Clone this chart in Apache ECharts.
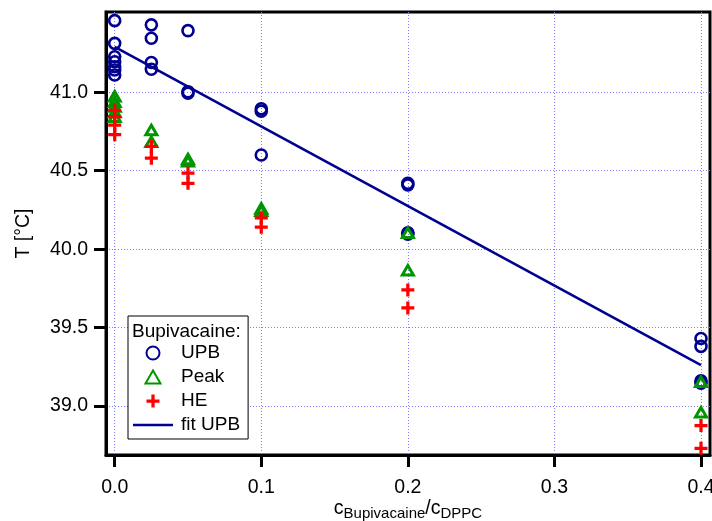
<!DOCTYPE html>
<html><head><meta charset="utf-8">
<script src="https://cdn.jsdelivr.net/npm/echarts@6/dist/echarts.min.js"></script>
<style>html,body{margin:0;padding:0;background:#fff}#c{width:712px;height:521px}</style>
</head><body><div id="c"></div>
<script>
// ---- data ----
const upbX = [0,0,0,0,0,0,0, 0.025,0.025,0.025,0.025, 0.05,0.05,0.05, 0.1,0.1,0.1, 0.2,0.2,0.2,0.2, 0.4,0.4,0.4,0.4];
const upbY = [41.457,41.312,41.227,41.195,41.163,41.142,41.11, 41.43,41.345,41.19,41.147, 41.393,41.004,40.994, 40.895,40.88,40.60, 40.42,40.41,40.105,40.095, 39.43,39.38,39.16,39.145];
const peakX = [0,0,0,0,0, 0.025,0.025, 0.05,0.05, 0.1,0.1, 0.2,0.2, 0.4,0.4];
const peakY = [40.975,40.94,40.91,40.875,40.845, 40.76,40.685, 40.575,40.56, 40.26,40.245, 40.105,39.865, 39.155,38.96];
const heX = [0,0,0,0, 0.025,0.025, 0.05,0.05, 0.1,0.1, 0.2,0.2, 0.4,0.4];
const heY = [40.885,40.845,40.79,40.73, 40.655,40.58, 40.485,40.42, 40.2,40.14, 39.74,39.625, 38.875,38.73];
const fitX = [0, 0.4];
const fitY = [41.29, 39.26];
const xTicks = [0, 0.1, 0.2, 0.3, 0.4];
const yTicks = [39.0, 39.5, 40.0, 40.5, 41.0];
const seriesNames = ['UPB', 'Peak', 'HE', 'fit UPB'];
const legendTitle = 'Bupivacaine:';
const yTitle = 'T [°C]';

const pairs = (xs, ys) => xs.map((x, i) => [x, ys[i]]);
const FONT = 'Liberation Sans';
const NAVY = '#000090', GREEN = '#009600', RED = '#ff0000';
const PLUS = 'path://M3,0h2v3h3v2h-3v3h-2v-3h-3v-2h3z';
const TRI = 'path://M5,0L10,8.66L0,8.66Z';
const LINEICON = 'path://M0,0h40v2.6h-40z';
const grid = {color: '#8080ff', width: 1, type: [1, 2]};

const chart = echarts.init(document.getElementById('c'), null, {renderer: 'canvas'});
chart.setOption({
  animation: false,
  backgroundColor: '#fff',
  grid: {left: 106, right: 2, top: 12, bottom: 66, show: true, borderColor: '#000', borderWidth: 3,
         containLabel: false, outerBoundsMode: 'none'},
  xAxis: {
    type: 'value', min: -0.00594, max: 0.40614,
    axisLine: {show: true, onZero: false, lineStyle: {color: '#000', width: 3}},
    axisTick: {show: true, inside: false, length: 12, lineStyle: {color: '#000', width: 3}, customValues: xTicks},
    axisLabel: {customValues: xTicks, formatter: v => v.toFixed(1), fontFamily: FONT, fontSize: 19.5, color: '#000', margin: 23},
    splitLine: {show: true, lineStyle: grid, customValues: xTicks},
    name: '{m|c}{s|Bupivacaine}{m|/c}{s|DPPC}', nameLocation: 'middle', nameGap: 42, nameMoveOverlap: false,
    nameTextStyle: {rich: {
      m: {fontFamily: FONT, fontSize: 19.5, color: '#000'},
      s: {fontFamily: FONT, fontSize: 15, color: '#000', padding: [9, 0, 0, 0]}
    }}
  },
  yAxis: {
    type: 'value', min: 38.6876, max: 41.512,
    axisLine: {show: true, onZero: false, lineStyle: {color: '#000', width: 3}},
    axisTick: {show: true, inside: false, length: 12, lineStyle: {color: '#000', width: 3}, customValues: yTicks},
    axisLabel: {customValues: yTicks, formatter: v => v.toFixed(1), fontFamily: FONT, fontSize: 19.5, color: '#000', margin: 18},
    splitLine: {show: true, lineStyle: grid, customValues: yTicks},
    name: yTitle, nameLocation: 'middle', nameGap: 72, nameRotate: 90, nameMoveOverlap: false,
    nameTextStyle: {fontFamily: FONT, fontSize: 19.5, color: '#000'}
  },
  legend: {
    orient: 'vertical', left: 128, top: 316, padding: [27, 8, 4, 5],
    itemWidth: 40, itemHeight: 13, itemGap: 4, symbolKeepAspect: true,
    borderColor: '#000', borderWidth: 1, backgroundColor: '#fff',
    textStyle: {fontFamily: FONT, fontSize: 19, color: '#000', lineHeight: 20, padding: [0, 0, 0, 3]},
    data: [
      {name: seriesNames[0]},
      {name: seriesNames[1]},
      {name: seriesNames[2]},
      {name: seriesNames[3], icon: LINEICON, itemStyle: {color: NAVY, borderWidth: 0}}
    ],
    selectedMode: false, z: 10
  },
  graphic: [{type: 'text', left: 132, top: 322, z: 100,
    style: {text: legendTitle, font: '19px "Liberation Sans"', fill: '#000'}}],
  series: [
    {name: seriesNames[0], type: 'scatter', symbol: 'circle', symbolSize: 11,
     itemStyle: {color: 'rgba(0,0,0,0)', borderColor: NAVY, borderWidth: 2.6, opacity: 1},
     data: pairs(upbX, upbY)},
    {name: seriesNames[1], type: 'scatter', symbol: TRI, symbolSize: 11, symbolKeepAspect: true,
     itemStyle: {color: 'rgba(0,0,0,0)', borderColor: GREEN, borderWidth: 3, opacity: 1},
     data: pairs(peakX, peakY)},
    {name: seriesNames[2], type: 'scatter', symbol: PLUS, symbolSize: 13, symbolKeepAspect: true,
     itemStyle: {color: RED, opacity: 1},
     data: pairs(heX, heY)},
    {name: seriesNames[3], type: 'line', symbol: 'none', showSymbol: false,
     lineStyle: {color: NAVY, width: 2.6}, itemStyle: {color: NAVY},
     data: pairs(fitX, fitY)}
  ]
});
</script></body></html>
